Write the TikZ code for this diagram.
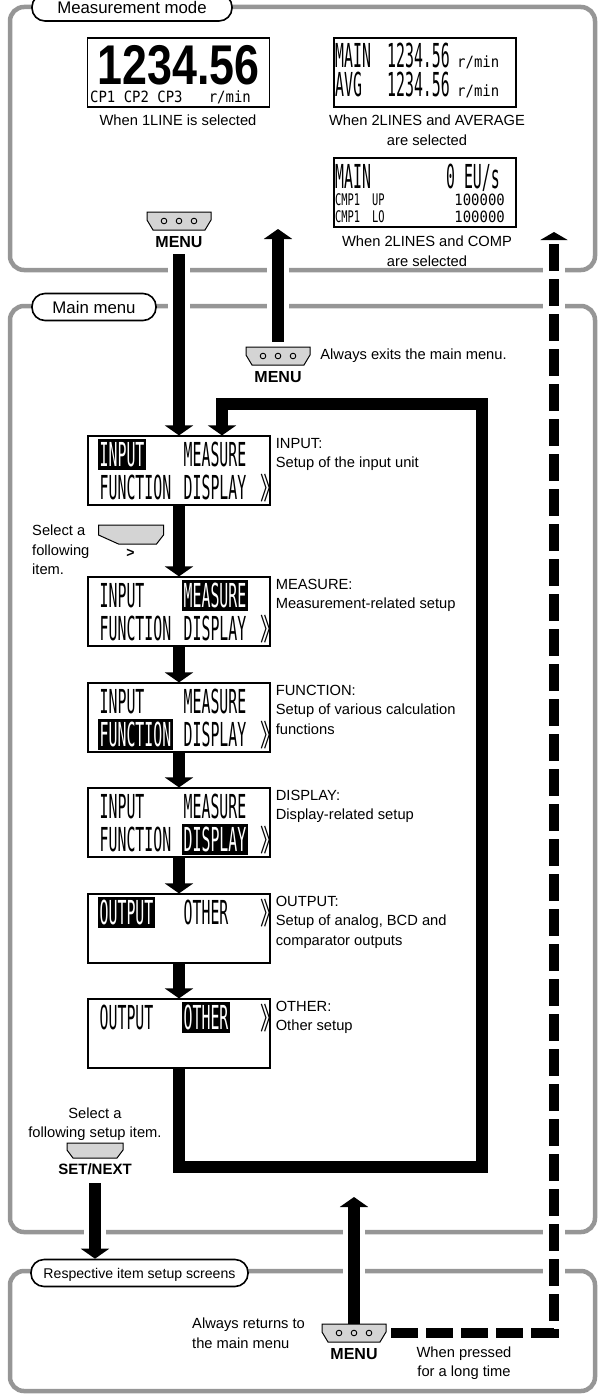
\documentclass[tikz,border=0pt]{standalone}
\usepackage{fontspec}
\setmainfont{Liberation Sans}
\newfontfamily\lcd{DejaVu Sans Mono}[FakeStretch=0.45]
\newfontfamily\lcdm{DejaVu Sans Mono}[FakeStretch=0.65]
\newfontfamily\lcds{DejaVu Sans Mono}[FakeStretch=0.9]
\newfontfamily\bignum{Liberation Sans Bold}[FakeStretch=0.8]
\newfontfamily\cjkbr{Noto Sans CJK JP}[FakeStretch=0.7]
\usetikzlibrary{arrows.meta,positioning}
\definecolor{framegray}{RGB}{150,150,150}
\definecolor{keygray}{RGB}{212,212,212}
\begin{document}
\begin{tikzpicture}[x=1pt,y=-1pt,line join=miter,
	gframe/.style={draw=framegray,line width=4.5pt,rounded corners=14pt},
	modelbl/.style={draw,fill=white,line width=1.6pt,rounded corners=13pt,minimum height=27pt,inner xsep=0pt,font=\fontsize{16.8}{16.8}\selectfont,text height=12pt,text depth=0pt},
	screen/.style={draw,line width=1.2pt,minimum width=182pt,minimum height=69pt,inner sep=0pt},
	txt/.style={inner sep=0pt,font=\fontsize{14.7}{19.5}\selectfont},
	desc/.style={txt,align=left,anchor=north west},
	lcdw/.style={anchor=west,inner xsep=1.5pt,inner ysep=3.5pt,text height=24pt,text depth=0pt,font=\lcd\fontsize{33}{33}\selectfont},
	lcdsel/.style={lcdw,fill=black,text=white},
	lcdbig/.style={inner sep=0pt,font=\lcd\fontsize{33}{33}\selectfont},
	lcdmid/.style={inner sep=0pt,font=\lcdm\fontsize{16}{16}\selectfont},
	lcdsmall/.style={inner sep=0pt,font=\lcds\fontsize{15.5}{15.5}\selectfont},
	chev/.style={inner sep=0pt,font=\cjkbr\fontsize{30}{30}\selectfont},
	keybox/.style={minimum width=64pt,minimum height=18pt,inner sep=0pt},
	keylbl/.style={inner sep=0pt,font=\bfseries\fontsize{16}{16}\selectfont},
	thickarr/.style={line width=12pt,-{Triangle[width=28pt,length=10pt]}},
	dasharr/.style={line width=10pt,dash pattern=on 27pt off 8pt,-{Triangle[width=27pt,length=8pt]}},
	menukey/.pic={
		\node[keybox] (-k) {};
		\draw[fill=keygray,line width=1pt] (-32,-9) -- (32,-9) -- (32,-1) -- (26,9) -- (-26,9) -- (-32,-1) -- cycle;
		\foreach \i in {-15,0,15} \draw[line width=0.9pt] (\i,0) circle[radius=2.8pt];
	},
	setkey/.pic={
		\node[keybox,minimum width=56pt,minimum height=15pt] (-k) {};
		\draw[fill=keygray,line width=1pt] (-28,-7) -- (28,-7) -- (28,0) -- (22,8) -- (-22,8) -- (-28,0) -- cycle;
	},
	selkey/.pic={
		\node[keybox,minimum width=65pt,minimum height=19pt] (-k) {};
		\draw[fill=keygray,line width=1pt] (-32,-10) -- (33,-10) -- (33,0) -- (26,9) -- (-12,9) -- (-32,0) -- cycle;
	}
	]
	\useasboundingbox (0,0) rectangle (604,1394);
	
	% frames
	\draw[gframe] (10,7) rectangle (595,270);
	\draw[gframe] (10,306) rectangle (595,1232);
	\draw[gframe] (10,1271) rectangle (595,1391);
	\foreach \x/\y in {179/270,179/306,278/270,278/306,554/270,554/306,554/1232,554/1271,95/1232,354/1232,354/1271}
	\fill[white] (\x-11,\y-4) rectangle (\x+11,\y+4);
	
	\node[modelbl,minimum width=200pt] (mlab) at (132,7.5) {Measurement mode};
	\node[modelbl,minimum width=124pt] (mmlab) at (94,307) {Main menu};
	\node[modelbl,minimum width=217pt,font=\fontsize{14.1}{14.1}\selectfont,text height=10pt] (rlab) at (139.5,1273) {Respective item setup screens};
	
	% measurement mode
	\node[screen] (d1) at (178.5,72.5) {};
	\node[inner sep=0pt,anchor=base,font=\bignum\fontsize{56}{56}\selectfont] (d1v) at (178.5,85) {1234.56};
	\node[lcdsmall,anchor=base west] (d1c) at (90,103) {CP1 CP2 CP3};
	\node[lcdsmall,anchor=base east] (d1u) at (251,103) {r/min};
	\node[txt] (cap1) at (178,120) {When 1LINE is selected};
	
	\node[screen] (d2) at (425,72.5) {};
	\foreach \r/\yb/\w in {1/68/MAIN,2/97/AVG}{
		\node[lcdbig,anchor=base west] (d2-\r a) at (335,\yb) {\w};
		\node[lcdbig,anchor=base west] (d2-\r b) at (387,\yb) {1234.56};
		\node[lcdsmall,anchor=base west] (d2-\r c) at (457,\yb) {r/min};
	}
	\node[txt,align=center] (cap2) at (427,130) {When 2LINES and AVERAGE\\are selected};
	
	\node[screen] (d3) at (425,192.5) {};
	\node[lcdbig,anchor=base west] (d3a) at (335,188) {MAIN};
	\node[lcdbig,anchor=base east] (d3b) at (500,188) {0 EU/s};
	\foreach \r/\yb/\w in {1/205/UP,2/222/LO}{
		\node[lcdmid,anchor=base west] (d3-\r a) at (335,\yb) {CMP1};
		\node[lcdmid,anchor=base west] (d3-\r b) at (372,\yb) {\w};
		\node[lcdsmall,anchor=base east] (d3-\r c) at (505,\yb) {100000};
	}
	\node[txt,align=center] (cap3) at (427,251) {When 2LINES and COMP\\are selected};
	
	\pic (mk1) at (179,221) {menukey};
	\node[keylbl,below=6.5pt of mk1-k] (menu1) {MENU};
	
	% main menu
	\pic (mk2) at (278,356) {menukey};
	\node[keylbl,below=6.5pt of mk2-k] (menu2) {MENU};
	\node[txt,anchor=west,right=10pt of mk2-k] (exitnote) {Always exits the main menu.};
	\coordinate (exit1) at (278,229);
	
	\foreach \n/\ty/\a/\b/\c/\d in {1/436/lcdsel/lcdw/lcdw/lcdw,2/577/lcdw/lcdsel/lcdw/lcdw,3/683/lcdw/lcdw/lcdsel/lcdw,4/788/lcdw/lcdw/lcdw/lcdsel}{
		\node[screen] (s\n) at (179,\ty+34.5) {};
		\node[\a] (s\n-a) at (98,\ty+18) {INPUT};
		\node[\b] (s\n-b) at (182,\ty+18) {MEASURE};
		\node[\c] (s\n-c) at (98,\ty+51) {FUNCTION};
		\node[\d] (s\n-d) at (182,\ty+51) {DISPLAY};
		\node[chev] (s\n-e) at (271,\ty+52) {》};
	}
	\node[screen] (s5) at (179,928.5) {};
	\node[lcdsel] (s5-a) at (98,912) {OUTPUT};
	\node[lcdw] (s5-b) at (182,912) {OTHER};
	\node[chev] (s5-e) at (271,913) {》};
	\node[screen] (s6) at (179,1033.5) {};
	\node[lcdw] (s6-a) at (98,1017) {OUTPUT};
	\node[lcdsel] (s6-b) at (182,1017) {OTHER};
	\node[chev] (s6-e) at (271,1018) {》};
	
	\foreach \n/\t in {1/{INPUT:\\Setup of the input unit},2/{MEASURE:\\Measurement-related setup},3/{FUNCTION:\\Setup of various calculation\\functions},4/{DISPLAY:\\Display-related setup},5/{OUTPUT:\\Setup of analog, BCD and\\comparator outputs},6/{OTHER:\\Other setup}}
	\node[desc] (t\n) at ([xshift=5pt,yshift=-2.5pt]s\n.north east) {\t};
	
	\pic (sk) at (130.5,535) {selkey};
	\node[keylbl,font=\bfseries\fontsize{14}{14}\selectfont,below=4pt of sk-k] (selgt) {>};
	\node[txt,align=left,anchor=west] (selnote) at (32,550) {Select a\\following\\item.};
	
	\pic (kset) at (95,1150) {setkey};
	\node[keylbl,font=\bfseries\fontsize{15}{15}\selectfont,below=6pt of kset-k] (setlbl) {SET/NEXT};
	\node[txt,align=center] (setnote) at (95,1124) {Select a\\following setup item.};
	
	% setup screens
	\pic (mk3) at (354,1333) {menukey};
	\node[keylbl,below=6.5pt of mk3-k] (menu3) {MENU};
	\node[txt,align=left,anchor=west] (retnote) at (192,1333) {Always returns to\\the main menu};
	\node[txt,align=center] (longnote) at (464,1363) {When pressed\\for a long time};
	\coordinate (exit2) at (354,1197);
	\coordinate (exit3) at (554,232);
	\coordinate (loopR) at (482,1167);
	\coordinate (loopT) at (482,404);
	
	% arrows
	\draw[thickarr,shorten <=6pt] (menu1.south) -- (s1.north);
	\draw[thickarr,shorten <=5pt] (mk2-k.north) -- (exit1);
	\foreach \i [count=\j from 2] in {1,...,5}
	\draw[thickarr] (s\i) -- (s\j);
	\draw[thickarr] (s6.south) |- (loopR) -- (loopT) -| ([xshift=43pt]s1.north);
	\draw[thickarr,shorten <=8pt] (setlbl.south) -- (setlbl |- rlab.north);
	\draw[thickarr] (mk3-k.north) -- (exit2);
	\draw[dasharr] ([xshift=5pt]mk3-k.east) -| (exit3);
\end{tikzpicture}
\end{document}
